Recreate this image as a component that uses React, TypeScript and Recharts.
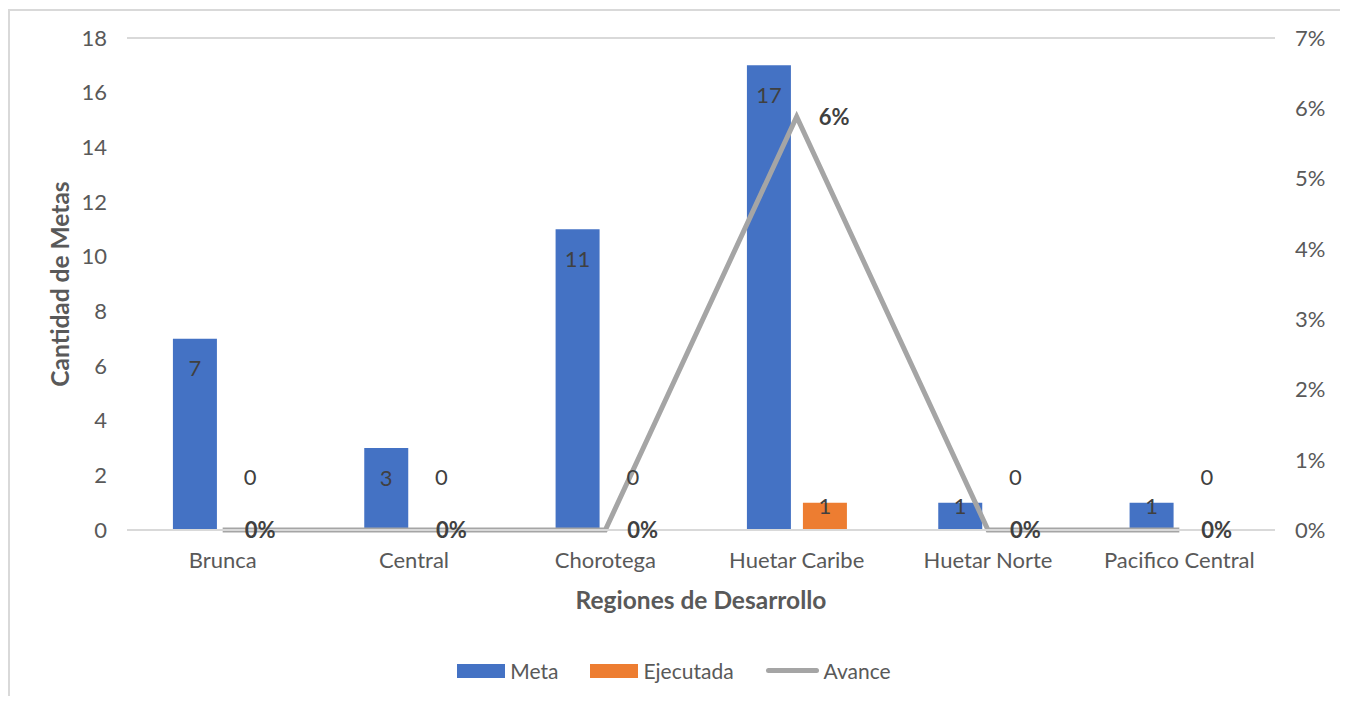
import { ComposedChart, Bar, Line, XAxis, YAxis, CartesianGrid, Legend, LabelList } from "recharts";

const regiones = ["Brunca", "Central", "Chorotega", "Huetar Caribe", "Huetar Norte", "Pacifico Central"];
const meta = [7, 3, 11, 17, 1, 1];
const ejecutada = [0, 0, 0, 1, 0, 0];
const avance = [0, 0, 0, 0.0588, 0, 0];
const leftTicks = [0, 2, 4, 6, 8, 10, 12, 14, 16, 18];
const rightTicks = [0, 0.01, 0.02, 0.03, 0.04, 0.05, 0.06, 0.07];

const data = regiones.map((r, i) => ({
  region: r,
  meta: meta[i],
  ejecutada: ejecutada[i],
  avance: avance[i],
}));

const FONT = "Lato, 'Open Sans', sans-serif";
const AXIS_COLOR = "#595959";
const BAR_GAP = 12;

const pct = (v: number) => `${Math.round(v * 100)}%`;

// mimics Excel "inside end" labels
const BarValueLabel = (props: any) => {
  const { x, y, width, height, value } = props;
  const cx = Number(x) + Number(width) / 2;
  const top = Number(y);
  const base = top + Number(height || 0);
  if (Number(value) === 0) return null;
  const cy = Math.min(top + 29, base - 25);
  return (
    <text x={cx} y={cy} textAnchor="middle" dominantBaseline="central" fontSize={22} fill="#404040" fontFamily={FONT}>
      {value}
    </text>
  );
};

// zero-height bars get no label from the Bar, so the zeros are drawn from a hidden line
const ZeroLabel = (props: any) => {
  const { x, y, value } = props;
  if (Number(value) !== 0) return null;
  // second bar sits half a bar + half the gap right of the category centre
  const cx = Number(x) + 21.5 + BAR_GAP / 2;
  return (
    <text x={cx} y={Number(y) - 54} textAnchor="middle" dominantBaseline="central" fontSize={22} fill="#404040" fontFamily={FONT}>
      {value}
    </text>
  );
};

const LegendContent = () => {
  const items = [
    { name: "Meta", color: "#4472C4", type: "rect" },
    { name: "Ejecutada", color: "#ED7D31", type: "rect" },
    { name: "Avance", color: "#A5A5A5", type: "line" },
  ];
  return (
    <div style={{ display: "flex", justifyContent: "center", gap: 32, fontFamily: FONT, fontSize: 21, color: AXIS_COLOR }}>
      {items.map((it) => (
        <div key={it.name} style={{ display: "flex", alignItems: "center", gap: 5 }}>
          {it.type === "rect" ? (
            <span style={{ display: "inline-block", width: 48, height: 14, background: it.color }} />
          ) : (
            <span style={{ display: "inline-block", width: 53, height: 5, borderRadius: 3, background: it.color }} />
          )}
          <span>{it.name}</span>
        </div>
      ))}
    </div>
  );
};

export default function App() {
  return (
    <div style={{ margin: -8, width: 1348, height: 704, position: "relative", background: "#fff", overflow: "hidden" }}>
      <div style={{ position: "absolute", left: 8, top: 9, width: 1334, height: 720, border: "2px solid #d9d9d9" }} />
      <ComposedChart
        width={1348}
        height={704}
        data={data}
        margin={{ top: 38, right: 0, left: 0, bottom: 84 }}
        barCategoryGap="24%"
        barGap={BAR_GAP}
        style={{ position: "absolute", left: 0, top: 0 }}
      >
        <CartesianGrid vertical={false} stroke="#d9d9d9" strokeWidth={2} />
        <XAxis
          dataKey="region"
          axisLine={{ stroke: "#d9d9d9", strokeWidth: 2 }}
          tickLine={false}
          height={90}
          tickMargin={16}
          tick={{ fontSize: 22, fill: AXIS_COLOR, fontFamily: FONT }}
          label={{ value: "Regiones de Desarrollo", position: "insideTop", offset: 62, fontSize: 24.5, fontWeight: "bold", fill: AXIS_COLOR, fontFamily: FONT }}
        />
        <YAxis
          yAxisId="left"
          domain={[0, 18]}
          ticks={leftTicks}
          axisLine={false}
          tickLine={false}
          width={127}
          tickMargin={14}
          tick={{ fontSize: 22, fill: AXIS_COLOR, fontFamily: FONT }}
          label={{ value: "Cantidad de Metas", angle: -90, position: "insideLeft", offset: 60, style: { textAnchor: "middle" }, fontSize: 24.5, fontWeight: "bold", fill: AXIS_COLOR, fontFamily: FONT }}
        />
        <YAxis
          yAxisId="right"
          orientation="right"
          domain={[0, 0.07]}
          ticks={rightTicks}
          tickFormatter={pct}
          axisLine={false}
          tickLine={false}
          width={73}
          tickMargin={14}
          tick={{ fontSize: 22, fill: AXIS_COLOR, fontFamily: FONT }}
        />
        <Legend
          layout="horizontal"
          verticalAlign="middle"
          align="center"
          content={<LegendContent />}
          wrapperStyle={{ top: 658, left: 0, width: 1348 }}
        />
        <Bar yAxisId="left" dataKey="meta" name="Meta" fill="#4472C4" isAnimationActive={false}>
          <LabelList dataKey="meta" content={<BarValueLabel />} />
        </Bar>
        <Bar yAxisId="left" dataKey="ejecutada" name="Ejecutada" fill="#ED7D31" isAnimationActive={false}>
          <LabelList dataKey="ejecutada" content={<BarValueLabel />} />
        </Bar>
        <Line
          yAxisId="left"
          dataKey="ejecutada"
          stroke="none"
          dot={false}
          activeDot={false}
          legendType="none"
          isAnimationActive={false}
        >
          <LabelList dataKey="ejecutada" content={<ZeroLabel />} />
        </Line>
        <Line
          yAxisId="right"
          dataKey="avance"
          name="Avance"
          stroke="#A5A5A5"
          strokeWidth={5}
          dot={false}
          isAnimationActive={false}
        >
          <LabelList dataKey="avance" position="right" offset={22} formatter={(v: any) => pct(v)} fontSize={22} fontWeight="bold" fill="#404040" fontFamily={FONT} />
        </Line>
      </ComposedChart>
    </div>
  );
}
